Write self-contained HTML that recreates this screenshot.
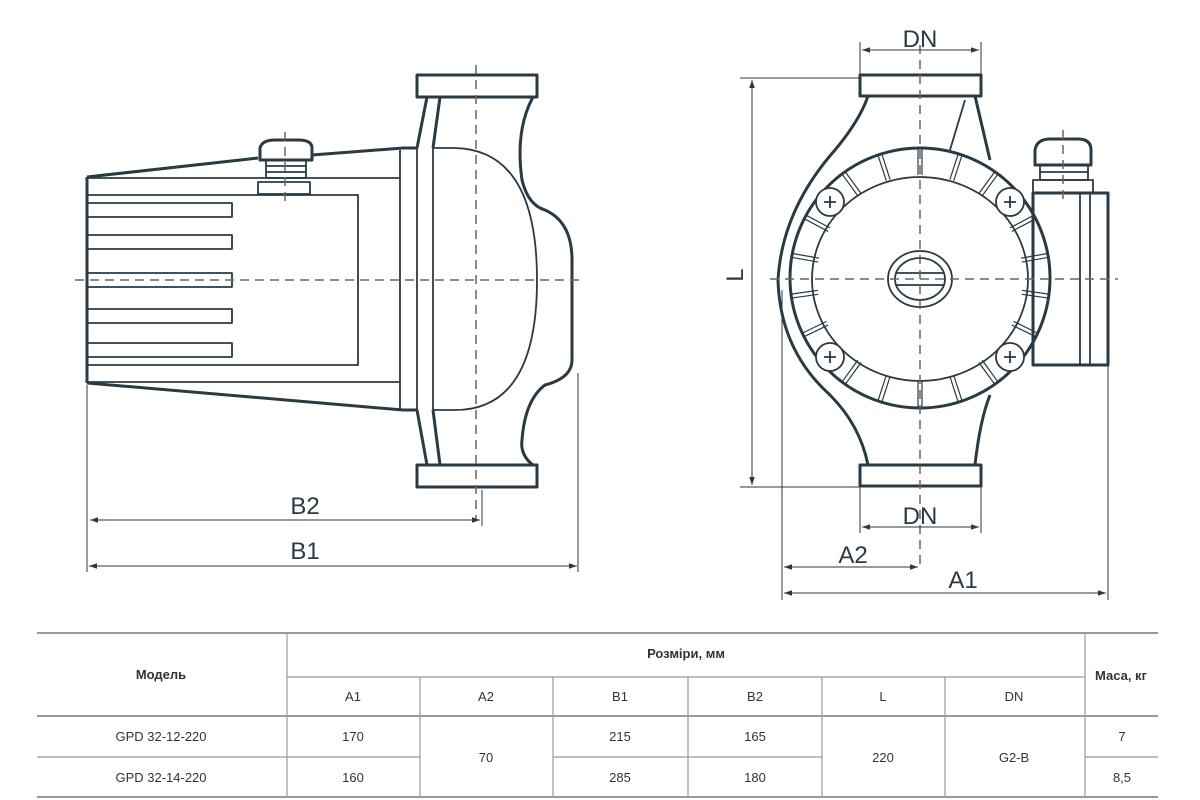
<!DOCTYPE html>
<html><head><meta charset="utf-8"><style>
body{margin:0;width:1200px;height:800px;background:#fff;overflow:hidden;font-family:"Liberation Sans Narrow","Liberation Sans","Noto Sans CJK SC",sans-serif}
svg{position:absolute;left:0;top:0}
</style></head><body>
<svg width="1200" height="800" viewBox="0 0 1200 800">
<defs>
<marker id="a" viewBox="0 0 10 10" refX="10" refY="5" markerWidth="10" markerHeight="8" orient="auto-start-reverse" markerUnits="userSpaceOnUse"><path d="M0,1.5 L10,5 L0,8.5" fill="#2a3a44"/></marker>
<g id="sp"><line x1="918" y1="175" x2="918" y2="149" stroke="#2a3a44" stroke-width="1.2"/><line x1="922" y1="175" x2="922" y2="149" stroke="#2a3a44" stroke-width="1.2"/></g>
</defs>
<g fill="none" stroke="#2a3a44" stroke-linejoin="round">
<!-- LEFT VIEW -->
<g stroke-width="3">
<path d="M87,177 L258,158 M312,155 L403,148 L417,148"/>
<path d="M87,383 L403,410 L417,410"/>
<line x1="87" y1="177" x2="87" y2="383"/>
<path d="M260,160 L260,148 Q262,140 275,140 L298,140 Q312,140 312,148 L312,160 Z"/>
<rect x="417" y="75" width="120" height="22"/>
<rect x="417" y="465" width="120" height="22"/>
<path d="M427,97 L417,148 M440,97 L433,148 M427,465 L417,410 M440,465 L433,410"/>
<path d="M533,97 Q515,130 522,180 Q528,205 545,210 Q572,222 572,260 L572,360 Q572,378 545,385 Q525,400 522,440 Q520,455 533,465"/>
</g>
<g stroke-width="1.8">
<line x1="87" y1="178" x2="400" y2="178"/>
<line x1="87" y1="382" x2="400" y2="382"/>
<line x1="400" y1="150" x2="400" y2="410"/>
<line x1="417" y1="148" x2="417" y2="410"/>
<line x1="433" y1="148" x2="433" y2="410"/>
<path d="M433,148 L455,148 Q537,150 537,280 Q537,410 455,410 L433,410"/>
<rect x="266" y="160" width="40" height="18"/>
<line x1="266" y1="166" x2="306" y2="166"/><line x1="266" y1="172" x2="306" y2="172"/>
<rect x="258" y="182" width="52" height="12"/>
<rect x="87" y="195" width="271" height="170"/>
<rect x="87" y="203" width="145" height="14"/>
<rect x="87" y="235" width="145" height="14"/>
<rect x="87" y="273" width="145" height="14"/>
<rect x="87" y="309" width="145" height="14"/>
<rect x="87" y="343" width="145" height="14"/>
</g>
<g stroke="#666" stroke-width="1.5" stroke-dasharray="9,6">
<line x1="75" y1="280" x2="584" y2="280"/>
<line x1="476" y1="65" x2="476" y2="520"/>
<line x1="285" y1="132" x2="285" y2="205"/>
</g>
<g stroke-width="1">
<line x1="87" y1="385" x2="87" y2="572"/>
<line x1="578" y1="373" x2="578" y2="572"/>
<line x1="482" y1="490" x2="482" y2="526"/>
<line x1="90" y1="520" x2="480" y2="520" marker-start="url(#a)" marker-end="url(#a)"/>
<line x1="89" y1="566" x2="577" y2="566" marker-start="url(#a)" marker-end="url(#a)"/>
</g>
<!-- RIGHT VIEW -->
<g stroke-width="3">
<rect x="860" y="75" width="121" height="21"/>
<rect x="860" y="465" width="121" height="21"/>
<path d="M868,96 Q860,120 835,150 Q782,210 778,280 Q780,350 830,395 Q860,425 868,465"/>
<path d="M975,96 L990,160 M975,465 Q980,420 990,395"/>
<circle cx="920" cy="278" r="130"/>
<rect x="1033" y="193" width="75" height="172"/>
<path d="M1035,165 L1035,150 Q1037,139 1050,139 L1078,139 Q1091,139 1091,150 L1091,165 Z"/>
</g>
<g stroke-width="1.8">
<path d="M965,100 L950,150"/>
<ellipse cx="920" cy="279" rx="108" ry="102"/>
<ellipse cx="920" cy="279" rx="32" ry="28"/>
<ellipse cx="920" cy="279" rx="25" ry="21"/>
<line x1="896" y1="273" x2="944" y2="273"/><line x1="896" y1="285" x2="944" y2="285"/>
<circle cx="830" cy="202" r="14" fill="#fff"/><circle cx="1010" cy="202" r="14" fill="#fff"/>
<circle cx="830" cy="357" r="14" fill="#fff"/><circle cx="1010" cy="357" r="14" fill="#fff"/>
<path d="M824,202h12M830,196v12M1004,202h12M1010,196v12M824,357h12M830,351v12M1004,357h12M1010,351v12"/>
<line x1="1080" y1="193" x2="1080" y2="365"/><line x1="1090" y1="193" x2="1090" y2="365"/>
<rect x="1040" y="165" width="48" height="15"/>
<line x1="1040" y1="172" x2="1088" y2="172"/>
<rect x="1033" y="180" width="60" height="13"/>
</g>
<use href="#sp" transform="rotate(0 920 278)"/><use href="#sp" transform="rotate(18 920 278)"/><use href="#sp" transform="rotate(36 920 278)"/>
<use href="#sp" transform="rotate(-18 920 278)"/><use href="#sp" transform="rotate(-36 920 278)"/>
<use href="#sp" transform="rotate(-62 920 278)"/><use href="#sp" transform="rotate(-80 920 278)"/><use href="#sp" transform="rotate(-98 920 278)"/><use href="#sp" transform="rotate(-116 920 278)"/>
<use href="#sp" transform="rotate(62 920 278)"/><use href="#sp" transform="rotate(80 920 278)"/><use href="#sp" transform="rotate(98 920 278)"/><use href="#sp" transform="rotate(116 920 278)"/>
<use href="#sp" transform="rotate(144 920 278)"/><use href="#sp" transform="rotate(162 920 278)"/><use href="#sp" transform="rotate(180 920 278)"/><use href="#sp" transform="rotate(198 920 278)"/><use href="#sp" transform="rotate(216 920 278)"/>
<g stroke="#666" stroke-width="1.5" stroke-dasharray="9,6">
<line x1="770" y1="279" x2="1118" y2="279"/>
<line x1="920" y1="45" x2="920" y2="570"/>
<line x1="1063" y1="130" x2="1063" y2="200"/>
</g>
<g stroke-width="1">
<line x1="860" y1="42" x2="860" y2="75"/><line x1="981" y1="42" x2="981" y2="75"/>
<line x1="862" y1="50" x2="979" y2="50" marker-start="url(#a)" marker-end="url(#a)"/>
<line x1="740" y1="78" x2="860" y2="78"/><line x1="740" y1="487" x2="860" y2="487"/>
<line x1="752" y1="80" x2="752" y2="485" marker-start="url(#a)" marker-end="url(#a)"/>
<line x1="860" y1="487" x2="860" y2="533"/><line x1="981" y1="487" x2="981" y2="533"/>
<line x1="862" y1="527" x2="979" y2="527" marker-start="url(#a)" marker-end="url(#a)"/>
<line x1="782" y1="290" x2="782" y2="600"/><line x1="1108" y1="365" x2="1108" y2="600"/>
<line x1="784" y1="567" x2="918" y2="567" marker-start="url(#a)" marker-end="url(#a)"/>
<line x1="784" y1="593" x2="1106" y2="593" marker-start="url(#a)" marker-end="url(#a)"/>
</g>
</g>
<g fill="#2a3a44" font-size="24" text-anchor="middle" font-family="'Liberation Sans Narrow','Liberation Sans',sans-serif">
<text x="305" y="514">B2</text>
<text x="305" y="559">B1</text>
<text x="920" y="47">DN</text>
<text x="920" y="524">DN</text>
<text x="853" y="563">A2</text>
<text x="963" y="588">A1</text>
<text x="735" y="275" transform="rotate(-90 735 275)" dy="8">L</text>
</g>
<!-- TABLE -->
<g stroke="#999" stroke-width="1.2" fill="none">
<line x1="37" y1="633" x2="1158" y2="633" stroke-width="2"/>
<line x1="287" y1="677" x2="1085" y2="677"/>
<line x1="37" y1="716" x2="1158" y2="716" stroke-width="2"/>
<line x1="37" y1="757" x2="420" y2="757"/>
<line x1="553" y1="757" x2="822" y2="757"/>
<line x1="1085" y1="757" x2="1158" y2="757"/>
<line x1="37" y1="797" x2="1158" y2="797" stroke-width="2"/>
<line x1="287" y1="633" x2="287" y2="797"/>
<line x1="1085" y1="633" x2="1085" y2="797"/>
<line x1="420" y1="677" x2="420" y2="797"/>
<line x1="553" y1="677" x2="553" y2="797"/>
<line x1="688" y1="677" x2="688" y2="797"/>
<line x1="822" y1="677" x2="822" y2="797"/>
<line x1="945" y1="677" x2="945" y2="797"/>
</g>
<g fill="#333" font-size="13" text-anchor="middle">
<text x="161" y="679" font-weight="bold">Модель</text>
<text x="686" y="658" font-weight="bold">Розміри, мм</text>
<text x="1121" y="680" font-weight="bold">Маса, кг</text>
<text x="353" y="701">A1</text><text x="486" y="701">A2</text><text x="620" y="701">B1</text>
<text x="755" y="701">B2</text><text x="883" y="701">L</text><text x="1014" y="701">DN</text>
<text x="161" y="741">GPD 32-12-220</text><text x="353" y="741">170</text><text x="620" y="741">215</text>
<text x="755" y="741">165</text><text x="1122" y="741">7</text>
<text x="486" y="762">70</text><text x="883" y="762">220</text><text x="1014" y="762">G2-B</text>
<text x="161" y="782">GPD 32-14-220</text><text x="353" y="782">160</text><text x="620" y="782">285</text>
<text x="755" y="782">180</text><text x="1122" y="782">8,5</text>
</g>
</svg>
</body></html>
